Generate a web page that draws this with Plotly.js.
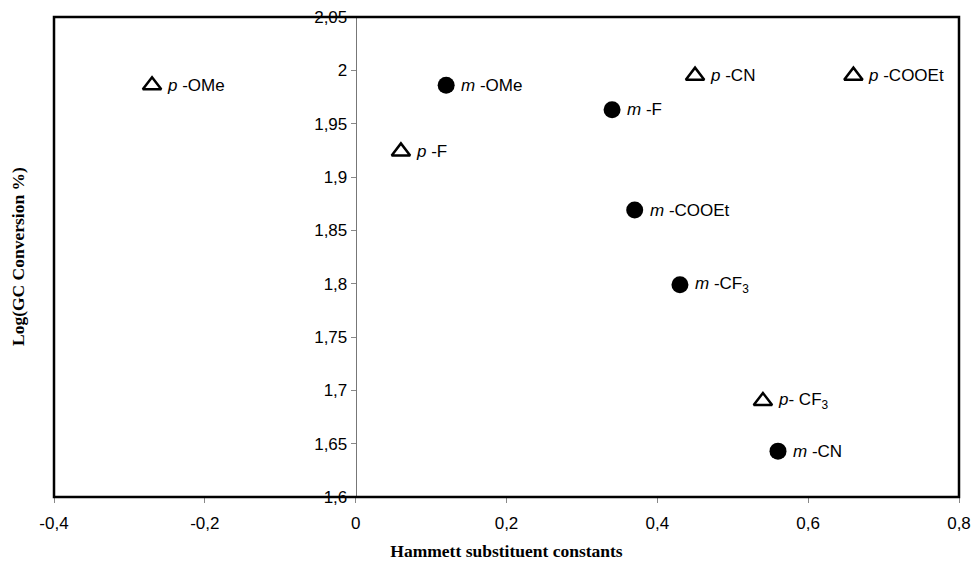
<!DOCTYPE html>
<html>
<head>
<meta charset="utf-8">
<script src="https://cdn.plot.ly/plotly-3.0.1.min.js"></script>
<style>html,body{margin:0;padding:0;background:#fff;}#chart{width:972px;height:562px;}</style>
</head>
<body>
<div id="chart"></div>
<script>
// para-substituted (open triangles)
const paraLabels = ['<i>p</i> -OMe', '<i>p</i> -F', '<i>p</i> -CN', '<i>p</i> -COOEt', '<i>p</i>- CF<sub>3</sub>'];
const paraX = [-0.27, 0.06, 0.45, 0.66, 0.54];
const paraY = [1.986, 1.924, 1.995, 1.995, 1.690];

// meta-substituted (filled circles)
const metaLabels = ['<i>m</i> -OMe', '<i>m</i> -F', '<i>m</i> -COOEt', '<i>m</i> -CF<sub>3</sub>', '<i>m</i> -CN'];
const metaX = [0.12, 0.34, 0.37, 0.43, 0.56];
const metaY = [1.986, 1.963, 1.869, 1.799, 1.643];

const xTickVals = [-0.4, -0.2, 0, 0.2, 0.4, 0.6, 0.8];
const xTickText = ['-0,4', '-0,2', '0', '0,2', '0,4', '0,6', '0,8'];
const yTickVals = [1.6, 1.65, 1.7, 1.75, 1.8, 1.85, 1.9, 1.95, 2, 2.05];
const yTickText = ['1,6', '1,65', '1,7', '1,75', '1,8', '1,85', '1,9', '1,95', '2', '2,05'];

const xRange = [-0.4, 0.8];
const yRange = [1.6, 2.05];

const sans = 'Liberation Sans, Arial, sans-serif';
const serif = 'Liberation Serif, Times New Roman, serif';
const labelFont = {family: sans, size: 17, color: '#000'};

const traces = [
  {
    type: 'scatter', mode: 'markers', x: paraX, y: paraY,
    marker: {symbol: 'triangle-up-open', size: 16, color: '#000', line: {width: 2.5, color: '#000'}},
    hoverinfo: 'skip'
  },
  {
    type: 'scatter', mode: 'markers', x: metaX, y: metaY,
    marker: {symbol: 'circle', size: 17, color: '#000'},
    hoverinfo: 'skip'
  }
];

const pointLabels = [];
paraX.forEach((x, i) => pointLabels.push({x: x, y: paraY[i], text: paraLabels[i]}));
metaX.forEach((x, i) => pointLabels.push({x: x, y: metaY[i], text: metaLabels[i]}));

const annotations = pointLabels.map(p => ({
  x: p.x, y: p.y, xref: 'x', yref: 'y', text: p.text, showarrow: false,
  xanchor: 'left', yanchor: 'middle', xshift: 13, font: labelFont
}));

annotations.push({
  text: '<b>Log(GC Conversion %)</b>', xref: 'paper', yref: 'paper',
  x: 0, y: 0.5, xshift: -36, textangle: -90, showarrow: false,
  xanchor: 'center', yanchor: 'middle',
  font: {family: serif, size: 17.5, color: '#000'}
});

const yPos = (0 - xRange[0]) / (xRange[1] - xRange[0]);

const layout = {
  width: 972, height: 562,
  margin: {l: 54, r: 13, t: 17, b: 65},
  paper_bgcolor: '#fff', plot_bgcolor: '#fff',
  showlegend: false,
  font: {family: sans, size: 17, color: '#000'},
  xaxis: {
    range: xRange, tickvals: xTickVals, ticktext: xTickText,
    showgrid: false, zeroline: false, showline: false,
    ticks: 'outside', ticklen: 5, tickwidth: 1, tickcolor: '#888',
    ticklabelstandoff: 6,
    tickfont: {family: sans, size: 17, color: '#000'},
    title: {text: '<b>Hammett substituent constants</b>', standoff: 12,
      font: {family: serif, size: 17.5, color: '#000'}}
  },
  yaxis: {
    range: yRange, tickvals: yTickVals, ticktext: yTickText,
    anchor: 'free', position: yPos,
    showgrid: false, zeroline: false, showline: true, linecolor: '#777', linewidth: 1,
    ticks: 'outside', ticklen: 5, tickwidth: 1, tickcolor: '#888',
    tickfont: {family: sans, size: 17, color: '#000'}
  },
  shapes: [
    {type: 'rect', xref: 'paper', yref: 'paper', x0: 0, x1: 1, y0: 0, y1: 1,
     line: {color: '#000', width: 2.5}, fillcolor: 'rgba(0,0,0,0)', layer: 'above'}
  ],
  annotations: annotations
};

Plotly.newPlot('chart', traces, layout, {displayModeBar: false, staticPlot: true});
</script>
</body>
</html>
